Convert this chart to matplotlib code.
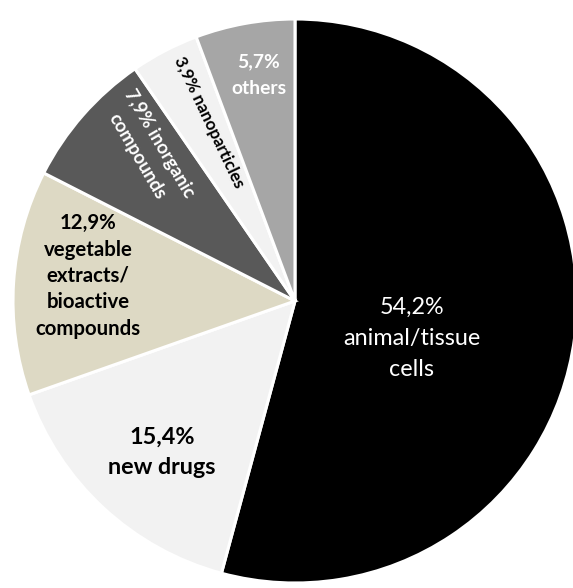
import math
import matplotlib
matplotlib.use("Agg")
import matplotlib.pyplot as plt

# ---- data ----
categories = ["animal/tissue cells", "new drugs", "vegetable extracts/ bioactive compounds",
              "inorganic compounds", "nanoparticles", "others"]
values = [54.2, 15.4, 12.9, 7.9, 3.9, 5.7]
value_labels = ["54,2%", "15,4%", "12,9%", "7,9%", "3,9%", "5,7%"]
colors = ["#000000", "#f2f2f2", "#ddd9c4", "#595959", "#f2f2f2", "#a6a6a6"]

W, H = 573, 588
FAM = ["Lato", "DejaVu Sans"]

fig = plt.figure(figsize=(W / 100, H / 100), dpi=100)
ax = fig.add_axes([0, 0, 1, 1])
ax.set_xlim(0, W)
ax.set_ylim(0, H)
ax.set_aspect("equal")
ax.axis("off")

cx, cy, R = 295, 301, 282
ax.pie(values, colors=colors, startangle=90, counterclock=False,
       center=(cx, H - cy), radius=R, frame=True,
       wedgeprops=dict(edgecolor="white", linewidth=2.2))
ax.set_xlim(0, W)
ax.set_ylim(0, H)
ax.axis("off")

renderer = fig.canvas.get_renderer()


def fit_size(s, weight, target):
    t = ax.text(0, 0, s, fontsize=20, fontweight=weight, family=FAM)
    w = t.get_window_extent(renderer).width
    t.remove()
    return 20 * target / w


def block(lines, center, spacing, widest, target, weight, color, rot=0.0):
    size = fit_size(widest, weight, target)
    a = math.radians(rot)
    # perpendicular (towards next line) in image coords (y down)
    ux, uy = math.cos(-a), math.sin(-a)
    nx, ny = -uy, ux
    n = len(lines)
    for i, s in enumerate(lines):
        off = (i - (n - 1) / 2) * spacing
        x = center[0] + nx * off
        y = center[1] + ny * off
        ax.text(x, H - y, s, fontsize=size, fontweight=weight, family=FAM,
                color=color, ha="center", va="center", rotation=rot,
                rotation_mode="anchor")


block([value_labels[0], "animal/tissue", "cells"], (412, 338), 31,
      "animal/tissue", 137, "normal", "white")
block([value_labels[1], "new drugs"], (162, 452), 30,
      "new drugs", 108, "bold", "black")
block([value_labels[2], "vegetable", "extracts/", "bioactive", "compounds"],
      (88, 276), 26.5, "compounds", 105, "bold", "black")
block([value_labels[3] + " inorganic", "compounds"], (148, 150), 26,
      value_labels[3] + " inorganic", 122, "bold", "white", rot=-59.6)
block([value_labels[4] + " nanoparticles"], (209, 122), 26,
      value_labels[4] + " nanoparticles", 144, "bold", "black", rot=-64.6)
block([value_labels[5], "others"], (259, 75), 26,
      "others", 55, "bold", "white")

fig.savefig("out.png", dpi=100, facecolor="white")
